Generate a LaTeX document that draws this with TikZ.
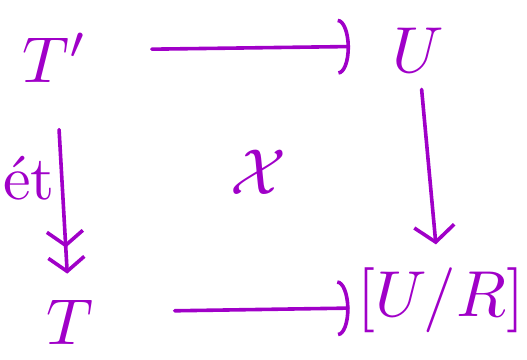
\documentclass[tikz,border=0pt]{standalone}
\usepackage{graphicx}
\usetikzlibrary{arrows.meta}
\definecolor{ink}{RGB}{160,0,200}
\begin{document}
\begin{tikzpicture}[x=1pt,y=-1pt,
  obj/.style={text=ink,inner sep=2pt},
  arr/.style={draw=ink,line width=3.6pt,line cap=round},
  monotip/.style={-{Arc Barb[length=12pt,width=56pt,line width=3.6pt]}},
  barbtip/.style={-{Straight Barb[length=16pt,width=40pt,line width=3.6pt]}},
  epitip/.style={-{Straight Barb[length=14pt,width=36pt,line width=3.6pt,sep=8pt]Straight Barb[length=14pt,width=36pt,line width=3.6pt]}}]
\useasboundingbox (0,0) rectangle (527,359);
\node[obj] (Tp) at (55,58) {\scalebox{6.5}{$T'$}};
\node[obj] (U) at (418,50) {\scalebox{6.5}{$U$}};
\node[obj] (T) at (70,322) {\scalebox{6.5}{$T$}};
\node[obj] (UR) at (441,300) {\scalebox{6.5}{$[U/R]$}};
\node[obj] (X) at (258,172) {\scalebox{6.5}{$\mathcal{X}$}};
\node[obj] (et) at (29,178) {\scalebox{6.2}{ét}};
\draw[arr,monotip,shorten <=62pt,shorten >=40pt] ([yshift=8pt]Tp.east) -- ([yshift=4pt]U.west);
\draw[arr,monotip,shorten <=79pt,shorten >=6pt] ([yshift=10pt]T.east) -- ([yshift=-8pt]UR.west);
\draw[arr,epitip,shorten <=45pt,shorten >=24pt] (Tp) -- (T);
\draw[arr,barbtip,shorten <=15pt,shorten >=21pt] (U) -- (UR);
\end{tikzpicture}
\end{document}
